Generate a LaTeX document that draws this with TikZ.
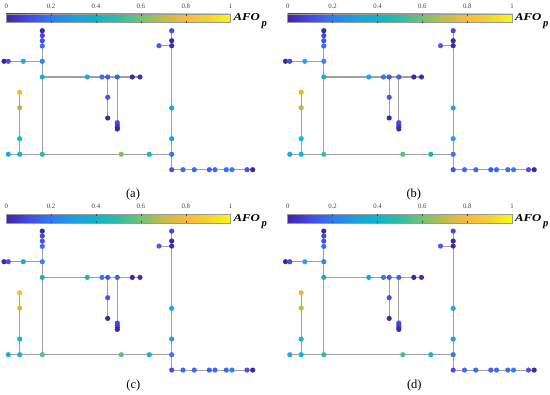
\documentclass[tikz,border=0pt]{standalone}
\usepackage{fontspec}
\usepackage{graphicx}
\setmainfont{Liberation Serif}
\pgfdeclarelayer{bg}
\pgfsetlayers{bg,main}
% parula colour bar stops
\definecolor{pr0}{HTML}{3E26A8}
\definecolor{pr1}{HTML}{4548E8}
\definecolor{pr2}{HTML}{2E7CF0}
\definecolor{pr3}{HTML}{1AA0E0}
\definecolor{pr4}{HTML}{0DB4CA}
\definecolor{pr5}{HTML}{2EBEA2}
\definecolor{pr6}{HTML}{74C270}
\definecolor{pr7}{HTML}{C4BC46}
\definecolor{pr8}{HTML}{F8BA3C}
\definecolor{pr9}{HTML}{F4D42C}
\definecolor{pr10}{HTML}{F8FA14}
\definecolor{linkgray}{HTML}{A0A0A0}
\newcommand\nc[2]{\definecolor{nd#1}{HTML}{#2}}
\tikzset{
  link/.style={draw=linkgray, line width=1.1pt},
  dot/.style={circle, inner sep=0pt, minimum size=5.2pt, fill=#1},
  ticklbl/.style={font=\fontsize{6.8}{8}\selectfont, text=black!75},
  panellbl/.style={font=\fontsize{12.5}{14}\selectfont},
  afolbl/.style={font=\fontsize{10.5}{12}\selectfont\bfseries\itshape, inner sep=0pt},
}
\newcommand\basecolors{%
  \nc{t1}{3A2AA0}\nc{t2}{4545E0}\nc{t3}{4250EE}\nc{t4}{3A6CF5}
  \nc{j1}{2F86EE}\nc{j2}{18AEE0}
  \nc{l1}{3A2A98}\nc{l2}{4A4AE6}\nc{l3}{20A8E0}
  \nc{h1}{1EAAE0}\nc{h2}{3A72F5}\nc{h3}{3A5CF0}\nc{h4}{3A62F2}\nc{h5}{3A2A9E}\nc{h6}{3C34B0}
  \nc{v1}{4056EE}\nc{v2}{3A2A9E}
  \nc{k1}{4848EE}\nc{k2}{4444E4}\nc{k3}{4038CC}\nc{k4}{3A2AA8}
  \nc{r0}{4A5AEE}\nc{r1}{4646E6}\nc{r2}{3A2AA0}\nc{r3}{3A2EA8}
  \nc{r4}{22A2EA}\nc{r5}{249CEB}\nc{r6}{3A74F5}
  \nc{q1}{F6B73E}\nc{q2}{A8C444}\nc{q3}{18B6D6}\nc{q4}{14B0E0}
  \nc{b0}{20AAE0}\nc{b1}{2EBD98}\nc{b2}{7CC25A}\nc{b3}{18B8B8}
  \nc{e0}{4A4EE8}\nc{e1}{3C6AF5}\nc{e2}{3C6AF5}\nc{e3}{3C60F2}\nc{e4}{3C6AF5}
  \nc{e5}{3C6AF5}\nc{e6}{2E82F0}\nc{e7}{4A50E8}\nc{e8}{3A2A9A}}
% #1 prefix, #2 dx, #3 dy
\newcommand\netpanel[3]{%
\begin{scope}[shift={(#2,#3)}]
  % colour bar
  \foreach \i in {0,...,9}{
    \pgfmathsetmacro\xa{6+\i*22.47}
    \pgfmathsetmacro\xb{6+(\i+1)*22.47+0.25}
    \pgfmathtruncatemacro\j{\i+1}
    \shade[left color=pr\i, right color=pr\j] (\xa,14) rectangle (\xb,22.7);
  }
  \draw[draw=gray!80, line width=0.5pt] (6,14) rectangle (230.7,22.7);
  \foreach \v in {0.2,0.4,0.6,0.8}{
    \draw[black!70, line width=0.4pt] ({6+\v*224.7},14) -- ++(0,1.6);
    \draw[black!70, line width=0.4pt] ({6+\v*224.7},22.7) -- ++(0,-1.6);
  }
  \node[ticklbl] (#1k0) at (6.3,6) {0};
  \node[ticklbl] (#1k2) at (51,6) {0.2};
  \node[ticklbl] (#1k4) at (96,6) {0.4};
  \node[ticklbl] (#1k6) at (140.8,6) {0.6};
  \node[ticklbl] (#1k8) at (185.8,6) {0.8};
  \node[ticklbl] (#1k10) at (230.5,6) {1};
  \node[afolbl, anchor=base west] (#1afo) at (233.3,20.8) {\scalebox{1.22}[1]{AFO}\raisebox{-5.4pt}{\,p}};
  % nodes
  \node[dot=ndt1] (#1t1) at (42.3,30.7) {};
  \node[dot=ndt2] (#1t2) at (42.3,35.6) {};
  \node[dot=ndt3] (#1t3) at (42.3,40.7) {};
  \node[dot=ndt4] (#1t4) at (42.3,46) {};
  \node[dot=ndj1] (#1j1) at (42.3,61.3) {};
  \node[dot=ndj2] (#1j2) at (42.3,77) {};
  \node[dot=ndl1] (#1l1) at (4,61.3) {};
  \node[dot=ndl2] (#1l2) at (8.3,61.3) {};
  \node[dot=ndl3] (#1l3) at (23.3,61.3) {};
  \node[dot=ndh1] (#1h1) at (87.3,77) {};
  \node[dot=ndh2] (#1h2) at (102,77) {};
  \node[dot=ndh3] (#1h3) at (107.7,77) {};
  \node[dot=ndh4] (#1h4) at (117.3,77) {};
  \node[dot=ndh5] (#1h5) at (132.3,77) {};
  \node[dot=ndh6] (#1h6) at (140,77) {};
  \node[dot=ndv1] (#1v1) at (107.7,97.3) {};
  \node[dot=ndv2] (#1v2) at (107.7,118) {};
  \node[dot=ndk1] (#1c1) at (117.3,122.7) {};
  \node[dot=ndk2] (#1c2) at (117.3,125) {};
  \node[dot=ndk3] (#1c3) at (117.3,127.2) {};
  \node[dot=ndk4] (#1c4) at (117.3,129) {};
  \node[dot=ndr0] (#1r0) at (159,45.7) {};
  \node[dot=ndr1] (#1r1) at (171.7,30.7) {};
  \node[dot=ndr2] (#1r2) at (171.7,40.7) {};
  \node[dot=ndr3] (#1r3) at (171.7,45.7) {};
  \node[dot=ndr4] (#1r4) at (171.7,108) {};
  \node[dot=ndr5] (#1r5) at (171.7,138.7) {};
  \node[dot=ndr6] (#1r6) at (171.7,154.3) {};
  \node[dot=ndq1] (#1q1) at (19.7,92.3) {};
  \node[dot=ndq2] (#1q2) at (19.7,107.7) {};
  \node[dot=ndq3] (#1q3) at (19.7,138.7) {};
  \node[dot=ndq4] (#1q4) at (19.7,154.3) {};
  \node[dot=ndb0] (#1b0) at (8.3,154.3) {};
  \node[dot=ndb1] (#1b1) at (42.3,154.3) {};
  \node[dot=ndb2] (#1b2) at (121.3,154.3) {};
  \node[dot=ndb3] (#1b3) at (149.3,154.3) {};
  \node[dot=nde0] (#1e0) at (171.7,169.7) {};
  \node[dot=nde1] (#1e1) at (183,169.7) {};
  \node[dot=nde2] (#1e2) at (194.3,169.7) {};
  \node[dot=nde3] (#1e3) at (209.3,169.7) {};
  \node[dot=nde4] (#1e4) at (215,169.7) {};
  \node[dot=nde5] (#1e5) at (226.3,169.7) {};
  \node[dot=nde6] (#1e6) at (232,169.7) {};
  \node[dot=nde7] (#1e7) at (247,169.7) {};
  \node[dot=nde8] (#1e8) at (252.7,169.7) {};
  \begin{pgfonlayer}{bg}
    \draw[link] (#1t1.center) -- (#1b1.center);
    \draw[link] (#1l1.center) -- (#1j1.center);
    \draw[link] (#1j2.center) -- (#1h6.center);
    \draw[link] (#1h3.center) -- (#1v2.center);
    \draw[link] (#1h4.center) -- (#1c4.center);
    \draw[link] (#1r1.center) -- (#1r6.center) -- (#1e0.center);
    \draw[link] (#1r0.center) -- (#1r3.center);
    \draw[link] (#1q1.center) -- (#1q4.center);
    \draw[link] (#1b0.center) -- (#1r6.center);
    \draw[link] (#1e0.center) -- (#1e8.center);
  \end{pgfonlayer}
\end{scope}}
\begin{document}
\begin{tikzpicture}[x=1pt,y=-1pt]
  \useasboundingbox (0,0) rectangle (550,395);
  % panel (a)
  \basecolors
  \netpanel{a}{0}{0}
  % panel (b)
  \basecolors
  \nc{q1}{E8B830}\nc{q2}{A0C840}\nc{j2}{18AED8}\nc{b1}{40C088}\nc{b2}{5CC070}\nc{h1}{20A8E0}
  \netpanel{b}{281.5}{0}
  % panel (c)
  \basecolors
  \nc{j2}{22B0A8}\nc{h1}{2CB8A0}\nc{q1}{FBB83A}\nc{q2}{D2BC34}\nc{q3}{10B8C8}
  \nc{b1}{58C278}\nc{b2}{5CC076}\nc{q4}{18B0D8}
  \netpanel{c}{0}{200.4}
  % panel (d)
  \basecolors
  \nc{j2}{18A8E0}\nc{h1}{18A8E0}\nc{q1}{EAB830}\nc{q2}{B4C040}\nc{b1}{30C0A0}\nc{b2}{40C090}
  \netpanel{d}{281.5}{200.4}
  % panel labels
  \node[panellbl] (la) at (133,194) {(a)};
  \node[panellbl] (lb) at (413.8,194) {(b)};
  \node[panellbl] (lc) at (133.3,385.3) {(c)};
  \node[panellbl] (ld) at (414.3,385.5) {(d)};
\end{tikzpicture}
\end{document}
